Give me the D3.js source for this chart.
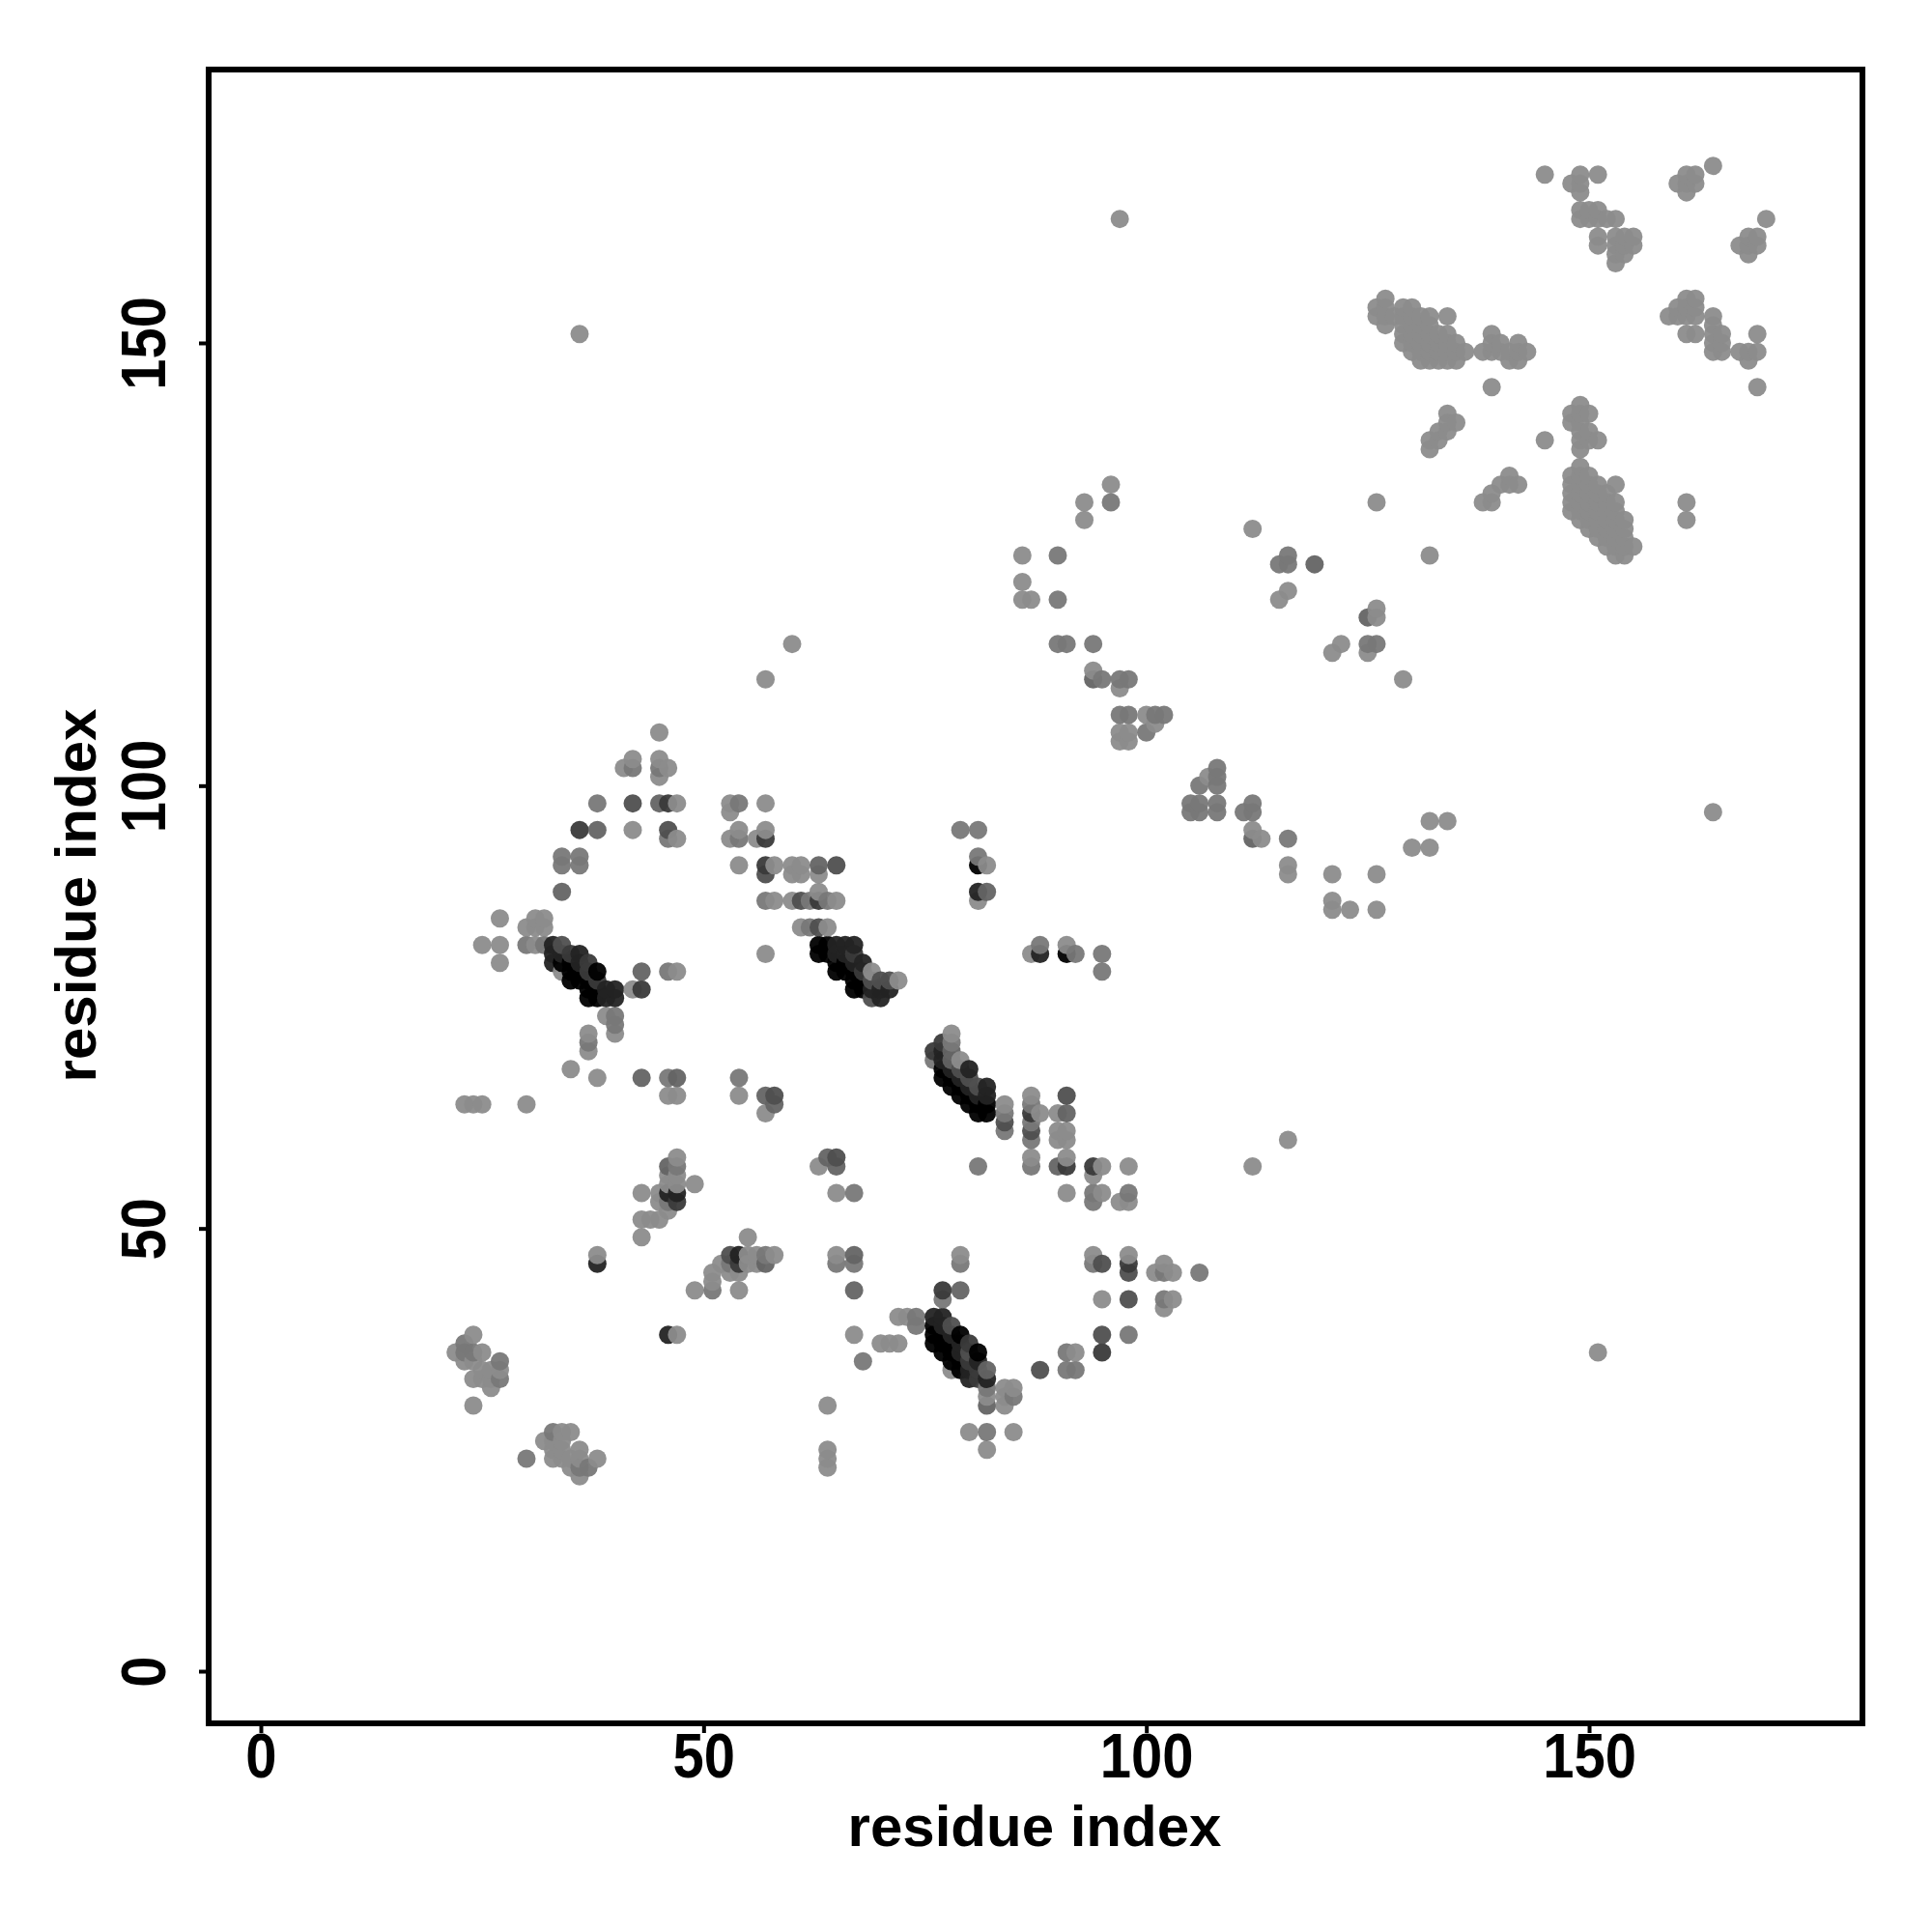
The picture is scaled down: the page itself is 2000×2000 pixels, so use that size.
<!DOCTYPE html>
<html><head><meta charset="utf-8">
<script src="https://cdn.jsdelivr.net/npm/d3@7"></script>
<style>html,body{margin:0;padding:0;background:#fff}svg{display:block}</style>
</head><body><div id="chart"></div>
<script>
const xTicks=[0,50,100,150], yTicks=[0,50,100,150];
const xTitle="residue index", yTitle="residue index";
const shadeColors=["#8c8c8c","#787878","#646464","#4f4f4f","#3a3a3a","#232323","#000000"];
const level0=[[45,106],[42,103],[41,102],[45,103],[46,102],[45,101],[47,98],[53,97],[53,98],[57,98],[42,95],[47,94],[53,94],[54,95],[56,94],[57,95],[54,91],[58,91],[60,91],[61,91],[60,90],[61,90],[63,90],[63,88],[58,87],[60,87],[65,87],[27,85],[31,85],[32,85],[30,84],[31,84],[32,84],[61,84],[64,84],[25,82],[27,82],[31,82],[27,80],[57,81],[34,79],[47,79],[42,77],[39,74],[40,72],[37,72],[37,70],[35,68],[38,67],[46,65],[47,65],[54,65],[57,63],[23,64],[24,64],[25,64],[30,64],[63,57],[69,79],[72,78],
[47,58],[47,56],[46,56],[47,55],[46,55],[49,55],[43,54],[45,54],[45,53],[46,52],[43,51],[44,51],[45,51],[43,49],[38,47],[55,49],[55,47],[56,47],[58,47],[52,46],[55,46],[56,46],[51,45],[53,45],[54,45],[51,44],[49,43],[54,43],[65,54],[65,47],[47,38],[72,40],[73,40],[67,38],[70,37],[71,37],[72,37],
[24,38],[22,36],[25,36],[23,35],[24,35],[25,34],[26,34],[27,34],[24,33],[25,33],[26,33],[26,32],[24,30],[34,27],[35,27],[32,26],[33,26],[34,26],[33,25],[34,25],[36,25],[33,24],[34,24],[35,24],[36,24],[38,24],[35,23],[36,22],[64,30],[64,25],[64,24],[64,23],
[82,91],[81,87],[91,82],[87,81],[84,64],[87,65],[88,63],[90,63],[90,61],[91,61],[90,60],[91,60],[87,58],[91,58],[95,57],[98,57],[112,57],[94,56],[91,54],[95,54],[97,53],[98,53],[94,47],[98,47],[101,45],[102,46],[103,45],[95,42],[103,42],[102,41],[92,36],[79,47],[78,72],[79,69],[78,34],[82,31],[84,32],[85,32],[84,31],[84,30],[80,27],[85,27],[82,25],
[93,132],[96,134],[93,130],[86,126],[86,123],[86,121],[87,121],[94,113],[97,111],[100,108],[101,107],[97,106],[98,106],[97,105],[98,105],[107,101],[112,95],[113,94],[116,91],[116,90],[121,90],[121,87],[121,86],[123,86],[126,90],[126,86],[130,93],[132,93],[132,96],[134,96],[126,132],[112,129],[132,126],[116,122],[115,121],[126,120],[126,119],[122,116],[121,115],[125,115],[129,112],[116,60],[151,36],[164,97],[36,151],[97,164],[57,112],[60,116],
[127,155],[126,154],[127,154],[126,153],[127,153],[127,152],[129,154],[130,154],[128,153],[129,153],[130,153],[131,153],[132,153],[134,153],[129,152],[130,152],[131,152],[132,152],[129,151],[130,151],[131,151],[132,151],[133,151],[134,151],[129,150],[130,150],[131,150],[132,150],[133,150],[134,150],[135,150],[130,149],[131,149],[132,149],[133,149],[134,149],[135,149],[136,149],[131,148],[132,148],[133,148],[134,148],[135,148],
[139,151],[140,150],[139,150],[138,149],[139,149],[140,149],[141,149],[142,150],[143,149],[142,149],[141,148],[142,148],[139,145],[134,142],[134,141],[135,141],[134,140],[133,140],[133,139],[132,139],[132,138],[145,139],[141,135],[140,134],[141,134],[142,134],[139,133],[138,132],[139,132],
[145,169],[149,169],[151,169],[148,168],[149,168],[149,167],[149,165],[150,165],[151,165],[149,164],[150,164],[151,164],[152,164],[153,164],[151,162],[153,162],[154,162],[155,162],[151,161],[153,161],[154,161],[155,161],[153,160],[154,160],[153,159],
[164,170],[161,169],[162,169],[160,168],[161,168],[162,168],[161,167],[170,164],[168,162],[169,162],[167,161],[168,161],[169,161],[168,160],[161,155],[162,155],[160,154],[161,154],[162,154],[159,153],[160,153],[161,153],[162,153],[161,151],[162,151],[164,153],[164,152],[165,151],[164,151],[164,150],[165,150],[164,149],[165,149],[167,149],[168,149],[169,149],[168,148],[169,151],[169,145],
[149,143],[148,142],[149,142],[150,142],[148,141],[149,141],[149,140],[150,140],[149,139],[150,139],[151,139],[149,138],[149,136],[148,135],[149,135],[150,135],[148,134],[149,134],[150,134],[151,134],[153,134],[148,133],[149,133],[150,133],[151,133],[152,133],[148,132],[149,132],[150,132],[151,132],[152,132],[153,132],[148,131],[149,131],[150,131],[151,131],[152,131],[153,131],[149,130],[150,130],[151,130],[152,130],[153,130],[154,130],[150,129],[151,129],[152,129],[153,129],[154,129],[151,128],[152,128],[153,128],[154,128],[152,127],[153,127],[154,127],[155,127],[153,126],[154,126],[161,132],[161,130]];
const level1=[[42,102],[45,102],[38,98],[54,98],[34,92],[36,92],[34,91],[36,91],[54,94],[46,94],[57,87],[62,87],[64,87],[62,84],[30,82],[32,82],[46,79],[40,74],[40,73],[37,71],[46,67],[54,67],
[47,57],[46,53],[67,54],[51,43],[57,47],[53,46],[65,46],[67,46],[68,35],[23,37],[23,36],[24,36],[27,35],[27,33],[33,27],[30,24],[36,23],[37,23],
[79,95],[81,95],[81,92],[88,82],[92,81],[95,81],[95,79],[84,63],[84,61],[87,64],[87,62],[87,60],[81,57],[87,57],[94,54],[94,53],[98,54],[94,46],[102,45],[106,45],[102,42],[98,38],[91,36],[91,34],[92,34],[79,46],[77,42],[74,40],[74,39],[78,71],[76,69],[82,32],[85,31],[82,27],
[96,132],[90,126],[90,121],[90,116],[91,116],[94,116],[95,112],[97,112],[98,112],[97,108],[98,108],[101,108],[102,108],[100,106],[108,102],[108,101],[106,100],[108,100],[105,98],[106,98],[108,98],[105,97],[106,97],[108,97],[112,98],[111,97],[112,97],[116,94],[116,126],[115,125],[116,125],[125,116],[126,116]];
const level2=[[45,98],[38,95],[63,91],[34,88],[43,79],[43,67],[47,67],[57,65],[58,64],[64,58],[65,57],[46,57],[57,46],[67,47],[67,43],[82,88],[91,63],[90,57],[78,70],[78,69],[79,43],[82,34],[82,30],[94,112],[112,94],[119,125],[125,119]];
const level3=[[42,98],[46,95],[65,91],[57,90],[61,87],[63,84],[34,82],[58,65],[65,58],[69,76],[53,47],[84,62],[87,61],[91,65],[95,46],[98,45],[98,42],[95,38],[88,34],[79,68],[80,67],[81,66],[78,39],[80,36],[69,78],[70,78],[71,78]];
const level4=[[46,98],[36,95],[57,94],[57,91],[63,87],[43,77],[47,53],[54,46],[87,63],[91,57],[94,57],[98,46],[95,36],[77,43],[77,71],[76,70],[80,37],[80,35],[81,34],[81,33],[35,81],[37,80],[37,79],[38,78],[67,81],[68,79]];
const level5=[[46,54],[47,54],[54,47],[38,46],[46,38],[81,88],[88,81],[77,70],[77,69],[78,68],[80,68],[79,67],[80,66],[82,66],[81,65],[82,65],[76,40],[77,40],[77,39],[78,38],[79,37],[79,36],[81,35],[80,34],[80,33],[82,33],[33,82],[33,81],[34,81],[36,81],[33,80],[36,80],[39,77],[40,77],[39,76],[40,76],[65,82],[66,82],[67,82],[65,81],[66,81],[67,80],[68,80],[69,77],[70,77],[71,77],[70,76]];
const level6=[[81,91],[91,81],[77,68],[77,67],[78,67],[78,66],[79,66],[79,65],[80,65],[80,64],[81,64],[82,64],[81,63],[82,63],[76,39],[76,38],[77,38],[79,38],[76,37],[77,37],[78,37],[77,36],[78,36],[81,36],[78,35],[79,35],[79,34],[34,80],[35,80],[35,79],[36,79],[38,79],[35,78],[36,78],[37,78],[37,77],[38,77],[37,76],[38,76],[63,82],[64,82],[63,81],[64,81],[65,80],[66,80],[65,79],[66,79],[67,79],[67,78],[68,78],[67,77],[68,77]];
const levels=[level0,level1,level2,level3,level4,level5,level6];

const W=2000,H=2000;
const x=d3.scaleLinear().domain([-5.89,180.87]).range([216,1928]);
const y=d3.scaleLinear().domain([-5.89,180.87]).range([1784,72]);
const FONT="'Liberation Sans',Arial,sans-serif";
const svg=d3.select("#chart").append("svg").attr("width",W).attr("height",H);
svg.append("rect").attr("width",W).attr("height",H).attr("fill","#fff");

// Later (larger residue index) contacts paint on top, as in the source plot.
const points=levels.flatMap((list,k)=>list.map(p=>({i:p[0],j:p[1],shade:shadeColors[k]})))
  .sort((a,b)=>d3.ascending(a.i,b.i)||d3.ascending(a.j,b.j));
svg.append("g").selectAll("circle").data(points).join("circle")
  .attr("cx",d=>x(d.i)).attr("cy",d=>y(d.j)).attr("r",9.5)
  .attr("fill",d=>d.shade).attr("fill-opacity",0.95);

const xAxis=svg.append("g").attr("transform","translate(0,1784)")
  .call(d3.axisBottom(x).tickValues(xTicks).tickSize(10).tickFormat(d3.format("d")));
const yAxis=svg.append("g").attr("transform","translate(216,0)")
  .call(d3.axisLeft(y).tickValues(yTicks).tickSize(10).tickFormat(d3.format("d")));
[xAxis,yAxis].forEach(a=>{a.select(".domain").remove();a.selectAll("line").attr("stroke","#000").attr("stroke-width",4);});
xAxis.selectAll("text").attr("font-family",FONT).attr("font-weight","bold").attr("font-size",58).attr("fill","#000")
  .attr("y",0).attr("dy",0).attr("transform","translate(0,56) scale(1,1.12)");
yAxis.selectAll("text").attr("font-family",FONT).attr("font-weight","bold").attr("font-size",58).attr("fill","#000")
  .attr("text-anchor","middle").attr("dy",0).attr("x",0).attr("y",0)
  .attr("transform","translate(-45,0) rotate(-90) scale(1,1.12)");

svg.append("rect").attr("x",216).attr("y",72).attr("width",1712).attr("height",1712)
  .attr("fill","none").attr("stroke","#000").attr("stroke-width",6);

svg.append("text").attr("x",1071).attr("y",1911).attr("text-anchor","middle")
  .attr("font-family",FONT).attr("font-weight","bold").attr("font-size",60).text(xTitle);
svg.append("text").attr("transform","translate(99,927) rotate(-90)").attr("text-anchor","middle")
  .attr("font-family",FONT).attr("font-weight","bold").attr("font-size",60).text(yTitle);
</script></body></html>
